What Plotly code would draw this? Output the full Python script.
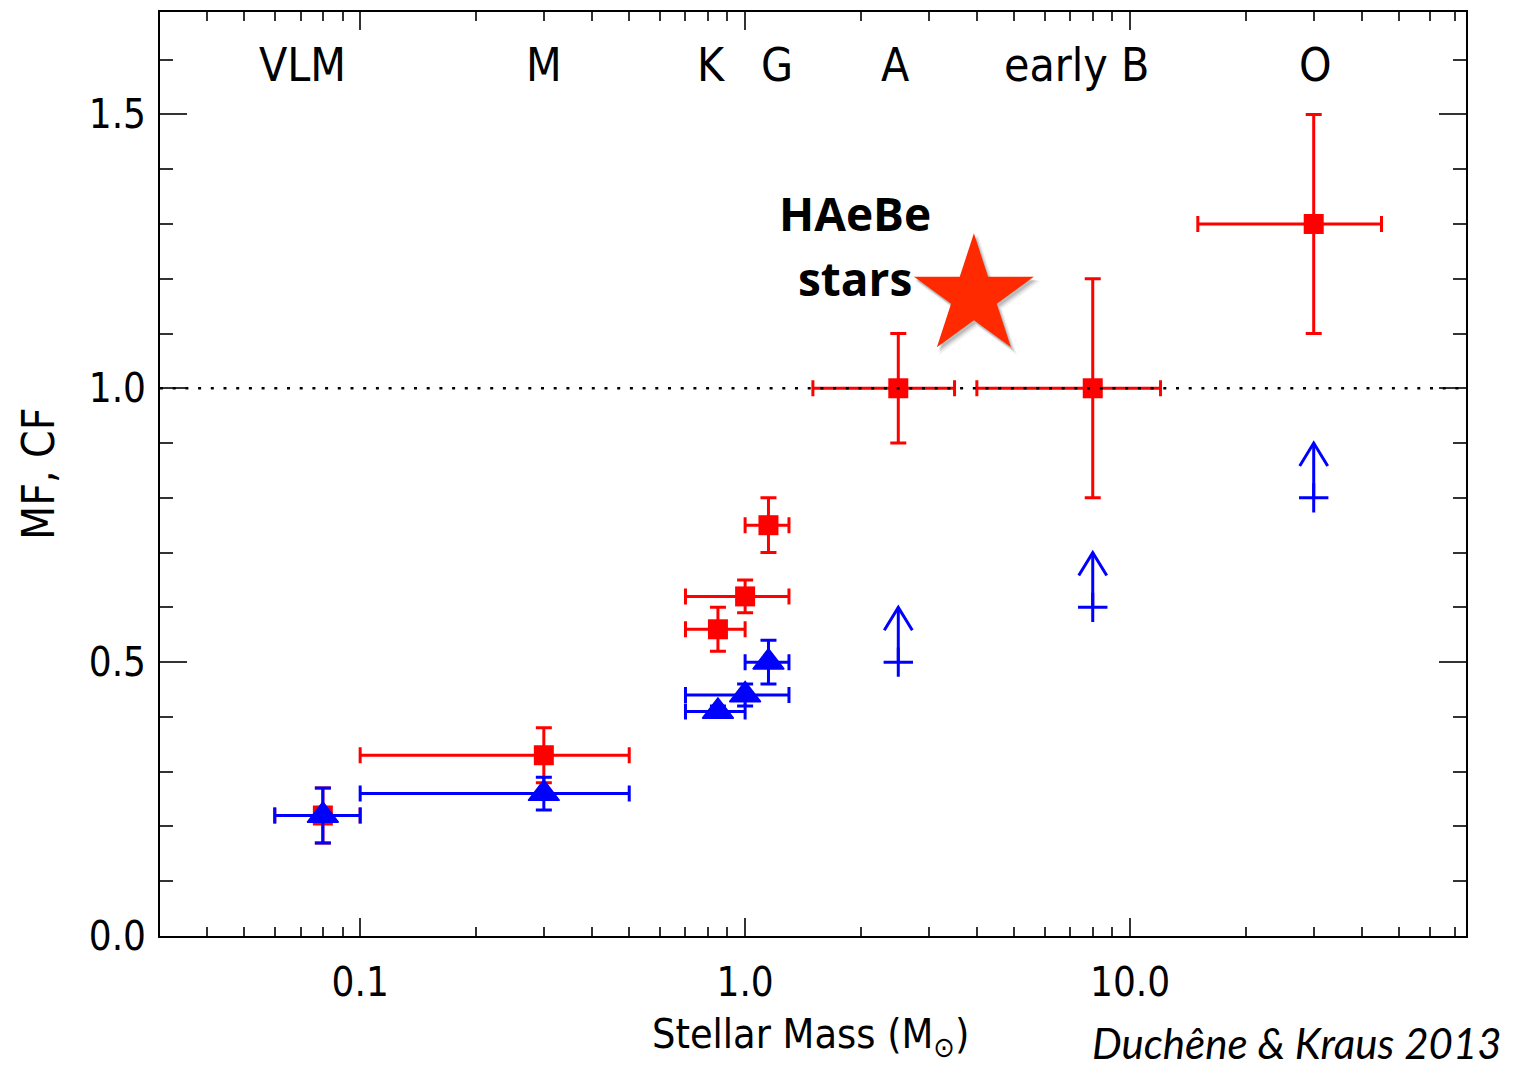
import numpy as np
import plotly.graph_objects as go

# ---------------- data ----------------
# Multiplicity fraction (MF, red squares)
mf_mass    = [0.08, 0.3, 0.85, 1.0, 1.15, 2.5, 8.0, 30.0]
mf_mass_lo = [0.06, 0.1, 0.7, 0.7, 1.0, 1.5, 4.0, 15.0]
mf_mass_hi = [0.10, 0.5, 1.0, 1.3, 1.3, 3.5, 12.0, 45.0]
mf_val     = [0.22, 0.33, 0.56, 0.62, 0.75, 1.0, 1.0, 1.3]
mf_err     = [0.05, 0.05, 0.04, 0.03, 0.05, 0.1, 0.2, 0.2]

# Companion frequency (CF, blue triangles)
cf_mass    = [0.08, 0.3, 0.85, 1.0, 1.15]
cf_mass_lo = [0.06, 0.1, 0.7, 0.7, 1.0]
cf_mass_hi = [0.10, 0.5, 1.0, 1.3, 1.3]
cf_val     = [0.22, 0.26, 0.41, 0.44, 0.50]
cf_err     = [0.05, 0.03, 0.01, 0.02, 0.04]

# CF lower limits
lim_mass  = [2.5, 8.0, 30.0]
lim_val   = [0.5, 0.6, 0.8]
lim_arrow = [0.1, 0.1, 0.1]

# HAeBe star
haebe_mass = [3.93]
haebe_val  = [1.168]

# spectral type labels
sp_labels = ["VLM", "M", "K", "G", "A", "early B", "O"]
sp_mass   = [0.071, 0.30, 0.82, 1.21, 2.45, 7.25, 30.4]
sp_y      = 1.59

x_tickvals = [0.1, 1.0, 10.0]
x_ticktext = ["0.1", "1.0", "10.0"]
y_tickvals = [0.0, 0.5, 1.0, 1.5]
y_ticktext = ["0.0", "0.5", "1.0", "1.5"]
x_minor = [d * 10.0 ** e for e in (-2, -1, 0, 1) for d in range(2, 10)]

RED = "#ff0000"
BLUE = "#0000ff"
NARROW = "DejaVu Sans Condensed, Liberation Sans Narrow, sans-serif"

fig = go.Figure()

# red MF points
fig.add_trace(go.Scatter(
    x=mf_mass, y=mf_val, mode="markers",
    marker=dict(symbol="square", size=20, color=RED),
    error_x=dict(type="data", symmetric=False,
                 array=[h - m for h, m in zip(mf_mass_hi, mf_mass)],
                 arrayminus=[m - l for l, m in zip(mf_mass_lo, mf_mass)],
                 color=RED, thickness=3, width=8),
    error_y=dict(type="data", array=mf_err, color=RED, thickness=3, width=8),
    showlegend=False, hoverinfo="skip"))

# blue CF points
fig.add_trace(go.Scatter(
    x=cf_mass, y=cf_val, mode="markers",
    marker=dict(symbol="triangle-up", size=27, color=BLUE,
                line=dict(color=BLUE, width=1.5)),
    error_x=dict(type="data", symmetric=False,
                 array=[h - m for h, m in zip(cf_mass_hi, cf_mass)],
                 arrayminus=[m - l for l, m in zip(cf_mass_lo, cf_mass)],
                 color=BLUE, thickness=3, width=8),
    error_y=dict(type="data", array=cf_err, color=BLUE, thickness=3, width=8),
    showlegend=False, hoverinfo="skip"))

# lower limits: cross + stem + open arrow head
fig.add_trace(go.Scatter(
    x=lim_mass, y=lim_val, mode="markers",
    marker=dict(symbol="cross-thin", size=21, color=BLUE,
                line=dict(color=BLUE, width=3)),
    showlegend=False, hoverinfo="skip"))
head_w = 10 ** (14 / 385.0)
head_h = 23 / 549.0
for m, v, a in zip(lim_mass, lim_val, lim_arrow):
    tip = v + a
    fig.add_trace(go.Scatter(
        x=[m, m, None, m / head_w, m, m * head_w],
        y=[v, tip, None, tip - head_h, tip, tip - head_h],
        mode="lines", line=dict(color=BLUE, width=3),
        showlegend=False, hoverinfo="skip"))

# HAeBe star with soft shadow
for dx, dy, s, c in [(4, 5, 95, "rgba(0,0,0,0.06)"), (3, 4, 92, "rgba(0,0,0,0.10)"),
                     (2, 3, 90, "rgba(0,0,0,0.12)")]:
    fig.add_trace(go.Scatter(
        x=[haebe_mass[0] * 10 ** (dx / 385.0)], y=[haebe_val[0] - dy / 549.0],
        mode="markers", marker=dict(symbol="star", size=s, color=c),
        showlegend=False, hoverinfo="skip"))
fig.add_trace(go.Scatter(
    x=haebe_mass, y=haebe_val, mode="markers",
    marker=dict(symbol="star", size=90, color="#ff2a00"),
    showlegend=False, hoverinfo="skip"))

# dotted line at 1.0
fig.add_shape(type="line", xref="paper", x0=0, x1=1, yref="y", y0=1.0, y1=1.0,
              line=dict(color="black", width=2.5, dash="3px,9.7px"), layer="above")

annotations = []
for lab, m in zip(sp_labels, sp_mass):
    annotations.append(dict(x=np.log10(m), y=sp_y, xref="x", yref="y", text=lab,
                            showarrow=False, xanchor="center", yanchor="middle",
                            font=dict(family=NARROW, size=46, color="black")))
annotations.append(dict(x=np.log10(1.93), y=1.32, xref="x", yref="y", text="<b>HAeBe</b>",
                        showarrow=False, xanchor="center", yanchor="middle",
                        font=dict(family="Open Sans", size=46, color="black")))
annotations.append(dict(x=np.log10(1.93), y=1.202, xref="x", yref="y", text="<b>stars</b>",
                        showarrow=False, xanchor="center", yanchor="middle",
                        font=dict(family="Open Sans", size=46, color="black")))
annotations.append(dict(x=(38 - 160) / 1306.0, y=0.5, xref="paper", yref="paper",
                        text="MF, CF", textangle=-90, showarrow=False,
                        xanchor="center", yanchor="middle",
                        font=dict(family=NARROW, size=44, color="black")))
annotations.append(dict(x=(810 - 160) / 1306.0, y=(936 - 1037) / 926.0, xref="paper", yref="paper",
                        text="Stellar Mass (M<sub>⊙</sub>)", showarrow=False,
                        xanchor="center", yanchor="middle",
                        font=dict(family=NARROW, size=41, color="black")))
annotations.append(dict(x=(1504 - 160) / 1306.0, y=(936 - 1043) / 926.0, xref="paper", yref="paper",
                        text="<i>Duchêne &amp; Kraus 2013</i>", showarrow=False,
                        xanchor="right", yanchor="middle",
                        font=dict(family="Lato", size=42, color="black")))

axis_common = dict(showgrid=False, zeroline=False, showline=True, linecolor="black",
                   linewidth=2, mirror="ticks", ticks="inside", tickcolor="#333",
                   tickwidth=1.5)

fig.update_layout(
    width=1520, height=1071,
    margin=dict(l=160, r=54, t=10, b=135),
    paper_bgcolor="white", plot_bgcolor="white",
    showlegend=False,
    annotations=annotations,
    xaxis=dict(type="log", range=[np.log10(0.0302), np.log10(74.6)],
               tickmode="array", tickvals=x_tickvals, ticktext=x_ticktext,
               ticklen=18, ticklabelstandoff=10,
               tickfont=dict(family=NARROW, size=40, color="black"),
               minor=dict(tickmode="array", tickvals=x_minor, ticks="inside",
                          ticklen=9, tickcolor="#333", tickwidth=1.5),
               **axis_common),
    yaxis=dict(range=[0, 1.687], tickmode="array", tickvals=y_tickvals, ticktext=y_ticktext,
               ticklen=27, ticklabelstandoff=4,
               tickfont=dict(family=NARROW, size=40, color="black"),
               minor=dict(dtick=0.1, tick0=0, ticks="inside", ticklen=13,
                          tickcolor="#333", tickwidth=1.5),
               **axis_common),
)

fig.write_html("out.html")
